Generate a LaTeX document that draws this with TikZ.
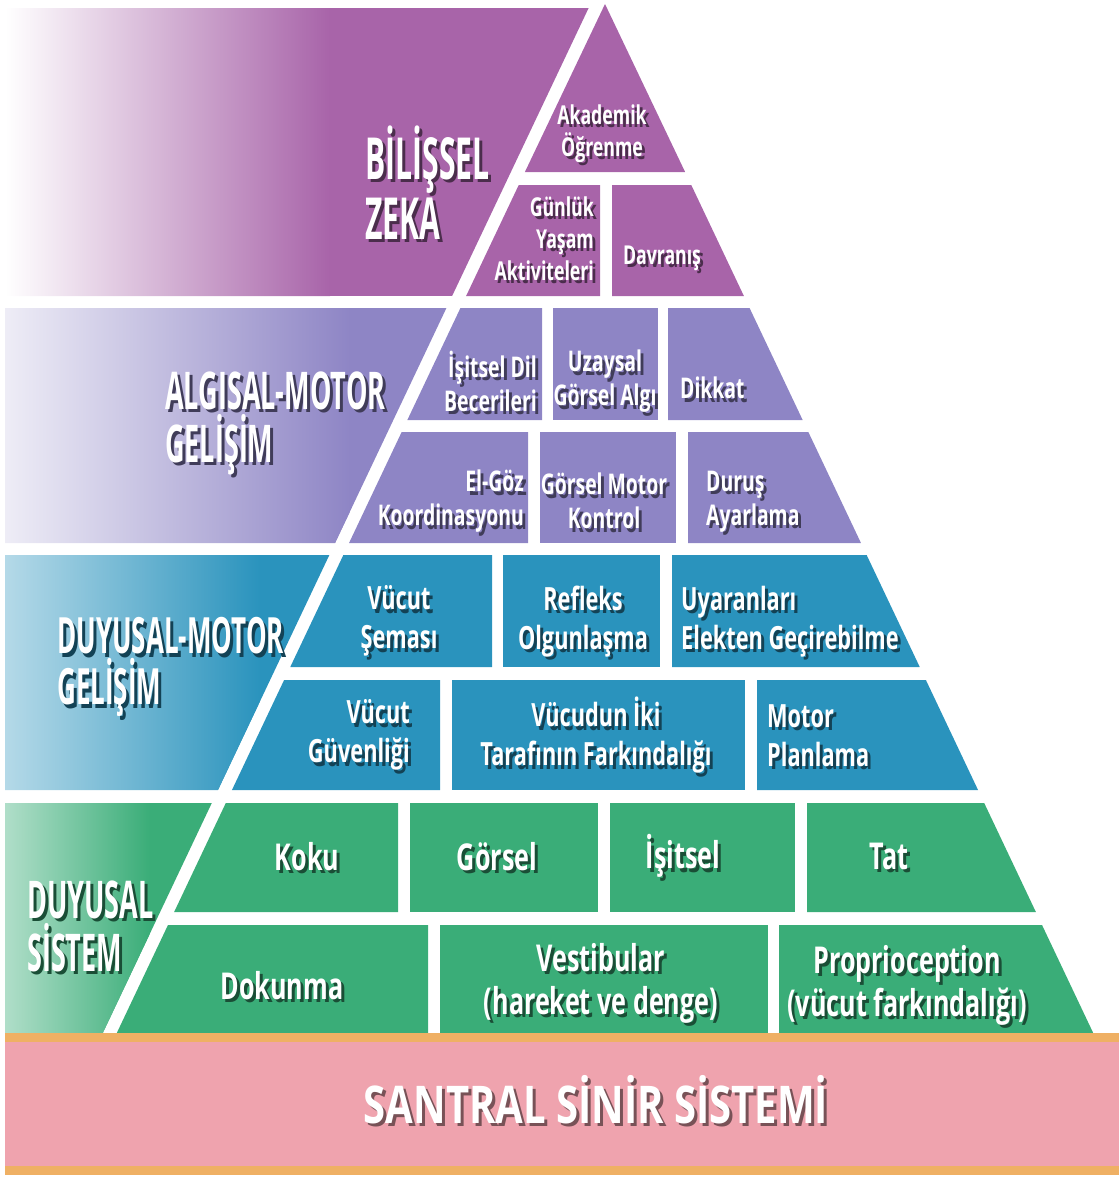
\documentclass[tikz,border=0pt]{standalone}
\usepackage{fontspec}
\usepackage{xcolor}
\usepackage{tikz}
\usetikzlibrary{calc,positioning}

\newfontfamily\bigface{Open Sans}[FakeStretch=0.52]
\newfontfamily\cellface{Open Sans}[FakeStretch=0.68]
\newfontfamily\baseface{Open Sans}[FakeStretch=0.77]

\definecolor{purp}{HTML}{A864A9}
\definecolor{lav}{HTML}{8E85C5}
\definecolor{blu}{HTML}{2A93BD}
\definecolor{grn}{HTML}{3AAD78}
\definecolor{pinkb}{HTML}{EFA3AE}
\definecolor{orng}{HTML}{EFB064}
\colorlet{purpD}{purp!45!black}
\colorlet{lavD}{lav!45!black}
\colorlet{bluD}{blu!45!black}
\colorlet{grnD}{grn!45!black}
\colorlet{pinkD}{pinkb!50!black}
\colorlet{shcol}{black}

% pyramid edges and band edge at height #1
\newcommand\pyrL[1]{({605-0.474*(#1-3)},#1)}
\newcommand\pyrR[1]{({605+0.474*(#1-3)},#1)}
\newcommand\bandR[1]{({591-0.474*(#1-3)},#1)}
% white text with a dark drop shadow
\newcommand\sh[1]{\makebox[0pt][l]{\kern3pt\raisebox{-3.5pt}{\textcolor{shcol}{#1}}}#1}

\tikzset{
  cell/.style={text=white, align=center, inner sep=0pt},
  lvA/.style={cell, font=\cellface\bfseries\fontsize{26}{32}\selectfont, execute at begin node={\colorlet{shcol}{purpD}}},
  lvB/.style={cell, font=\cellface\bfseries\fontsize{28.5}{34}\selectfont, execute at begin node={\colorlet{shcol}{lavD}}},
  lvC/.style={cell, font=\cellface\bfseries\fontsize{32}{39}\selectfont, execute at begin node={\colorlet{shcol}{bluD}}},
  lvD/.style={cell, font=\cellface\bfseries\fontsize{37}{43}\selectfont, execute at begin node={\colorlet{shcol}{grnD}}},
  biglbl/.style={text=white, align=left, anchor=west, inner sep=0pt,
    font=\bigface\bfseries\fontsize{52}{47}\selectfont},
}

\begin{document}
\begin{tikzpicture}[x=1pt,y=-1pt]
\useasboundingbox (0,0) rectangle (1119,1178);

% left bands, fading in from the left
\foreach \c/\lc/\ya/\yb/\xf in {purp/white/8/296/330, lav/lav!15!white/308/543/350,
    blu/blu!35!white/555/790/260, grn/grn!40!white/803/1033/150}{
  \begin{scope}
    \clip (5,\ya) -- \bandR{\ya} -- \bandR{\yb} -- (5,\yb) -- cycle;
    \fill[\c] (5,\ya) rectangle (600,\yb);
    \shade[left color=\lc, right color=\c] (5,\ya) rectangle (\xf,\yb);
  \end{scope}
}

% level 1
\fill[purp] (605,4) -- \pyrR{172} -- \pyrL{172} -- cycle;
\fill[purp] \pyrL{185} -- (600,185) -- (600,296) -- \pyrL{296} -- cycle;
\fill[purp] (612,185) -- \pyrR{185} -- \pyrR{296} -- (612,296) -- cycle;
% level 2
\fill[lav] \pyrL{308} -- (542,308) -- (542,420) -- \pyrL{420} -- cycle;
\fill[lav] (553,308) rectangle (658,420);
\fill[lav] (668,308) -- \pyrR{308} -- \pyrR{420} -- (668,420) -- cycle;
\fill[lav] \pyrL{432} -- (528,432) -- (528,543) -- \pyrL{543} -- cycle;
\fill[lav] (540,432) rectangle (676,543);
\fill[lav] (688,432) -- \pyrR{432} -- \pyrR{543} -- (688,543) -- cycle;
% level 3
\fill[blu] \pyrL{555} -- (492,555) -- (492,667) -- \pyrL{667} -- cycle;
\fill[blu] (503,555) rectangle (660,667);
\fill[blu] (672,555) -- \pyrR{555} -- \pyrR{667} -- (672,667) -- cycle;
\fill[blu] \pyrL{680} -- (440,680) -- (440,790) -- \pyrL{790} -- cycle;
\fill[blu] (452,680) rectangle (745,790);
\fill[blu] (757,680) -- \pyrR{680} -- \pyrR{790} -- (757,790) -- cycle;
% level 4
\fill[grn] \pyrL{803} -- (398,803) -- (398,912) -- \pyrL{912} -- cycle;
\fill[grn] (410,803) rectangle (598,912);
\fill[grn] (610,803) rectangle (795,912);
\fill[grn] (807,803) -- \pyrR{803} -- \pyrR{912} -- (807,912) -- cycle;
\fill[grn] \pyrL{925} -- (428,925) -- (428,1033) -- \pyrL{1033} -- cycle;
\fill[grn] (440,925) rectangle (768,1033);
\fill[grn] (779,925) -- \pyrR{925} -- \pyrR{1033} -- (779,1033) -- cycle;

% base
\fill[orng] (5,1033) rectangle (1119,1042);
\fill[pinkb] (5,1042) rectangle (1119,1166);
\fill[orng] (5,1166) rectangle (1119,1175);

% band labels
\node[biglbl, font=\bigface\bfseries\fontsize{58}{50}\selectfont,
  execute at begin node={\colorlet{shcol}{purpD}}] (bilissel) at (365,184) {\sh{BİLİŞSEL}\\\sh{ZEKA}};
\node[biglbl, execute at begin node={\colorlet{shcol}{lavD}}] (algisal) at (165,425) {\sh{ALGISAL-MOTOR}\\\sh{GELİŞİM}};
\node[biglbl, font=\bigface\bfseries\fontsize{50}{47}\selectfont,
  execute at begin node={\colorlet{shcol}{bluD}}] (duymotor) at (57,669) {\sh{DUYUSAL-MOTOR}\\\sh{GELİŞİM}};
\node[biglbl, execute at begin node={\colorlet{shcol}{grnD}}] (duysistem) at (27,928) {\sh{DUYUSAL}\\\sh{SİSTEM}};

% level 1 texts
\node[lvA] (akademik) at (602,135) {\sh{Akademik}\\\sh{Öğrenme}};
\node[lvA, align=right, anchor=east] (gunluk) at (594,240) {\sh{Günlük}\\\sh{Yaşam}\\\sh{Aktiviteleri}};
\node[lvA] (davranis) at (662,260) {\sh{Davranış}};
% level 2 texts
\node[lvB, align=right, anchor=east] (isitseldil) at (537,383) {\sh{İşitsel Dil}\\\sh{Becerileri}};
\node[lvB] (uzaysal) at (605,383) {\sh{Uzaysal}\\\sh{Görsel Algı}};
\node[lvB, anchor=west] (dikkat) at (680,390) {\sh{Dikkat}};
\node[lvB, align=right, anchor=east] (elgoz) at (524,503) {\sh{El-Göz}\\\sh{Koordinasyonu}};
\node[lvB] (gorselmotor) at (604,503) {\sh{Görsel Motor}\\\sh{Kontrol}};
\node[lvB, align=left, anchor=west] (durus) at (706,503) {\sh{Duruş}\\\sh{Ayarlama}};
% level 3 texts
\node[lvC] (sema) at (399,623) {\sh{Vücut}\\\sh{Şeması}};
\node[lvC] (refleks) at (583,623) {\sh{Refleks}\\\sh{Olgunlaşma}};
\node[lvC, align=left, anchor=west] (uyaran) at (681,623) {\sh{Uyaranları}\\\sh{Elekten Geçirebilme}};
\node[lvC, align=right, anchor=east] (guvenlik) at (410,737) {\sh{Vücut}\\\sh{Güvenliği}};
\node[lvC] (ikitaraf) at (596,737) {\sh{Vücudun İki}\\\sh{Tarafının Farkındalığı}};
\node[lvC, align=left, anchor=west] (planlama) at (767,737) {\sh{Motor}\\\sh{Planlama}};
% level 4 texts
\node[lvD] (koku) at (307,858) {\sh{Koku}};
\node[lvD] (gorsel) at (497,858) {\sh{Görsel}};
\node[lvD] (isitsel) at (683,858) {\sh{İşitsel}};
\node[lvD] (tat) at (889,858) {\sh{Tat}};
\node[lvD] (dokunma) at (282,987) {\sh{Dokunma}};
\node[lvD] (vestibular) at (601,985) {\sh{Vestibular}\\\sh{(hareket ve denge)}};
\node[lvD] (proprio) at (907,987) {\sh{Proprioception}\\\sh{(vücut farkındalığı)}};

% base label
\node[text=white, inner sep=0pt, font=\baseface\bfseries\fontsize{52}{52}\selectfont,
  execute at begin node={\colorlet{shcol}{pinkD}}] (santral) at (596,1101) {\sh{SANTRAL SİNİR SİSTEMİ}};
\end{tikzpicture}
\end{document}
